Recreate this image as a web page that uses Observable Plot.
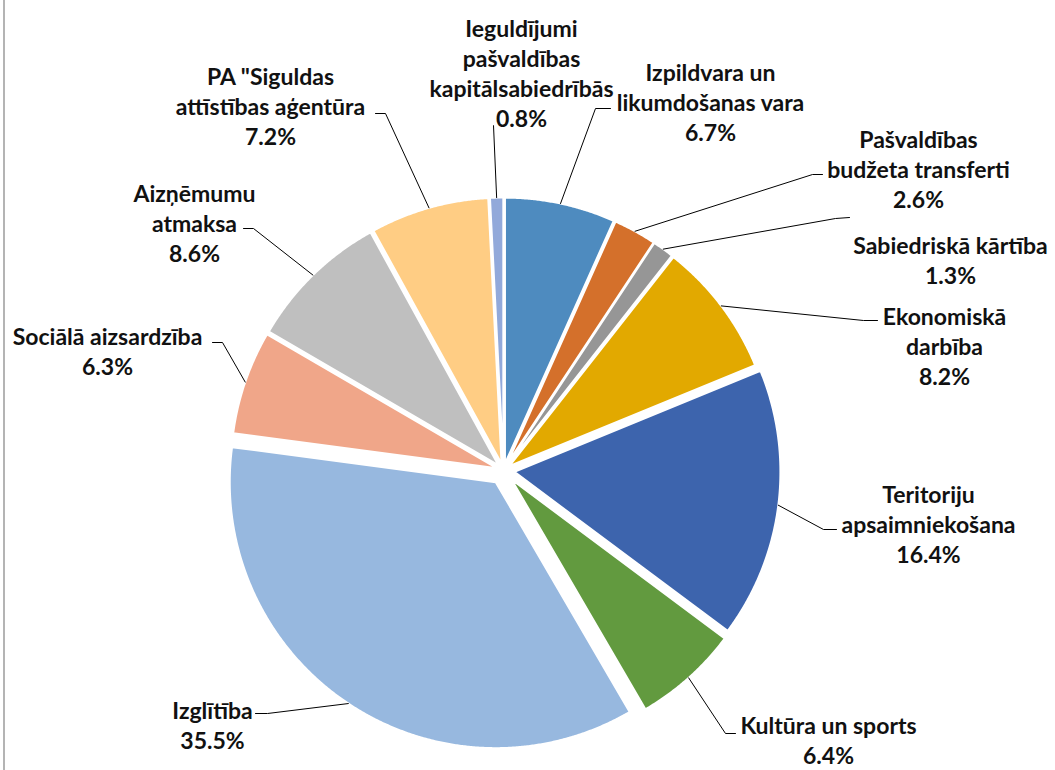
<!DOCTYPE html>
<html>
<head>
<meta charset="utf-8">
<script src="https://cdn.jsdelivr.net/npm/d3@7"></script>
<script src="https://cdn.jsdelivr.net/npm/@observablehq/plot@0.6"></script>
<style>
  html, body { margin: 0; padding: 0; background: #fff; }
  #wrap { position: relative; width: 1055px; height: 770px; }
  #frame { position: absolute; left: 3px; top: 0; width: 2px; height: 770px; background: #b4b4b4; }
</style>
</head>
<body>
<div id="wrap"><div id="frame"></div><div id="chart"></div></div>
<script>
// ---- data (clockwise from 12 o'clock) ----
const categories = [
  "Izpildvara un likumdošanas vara",
  "Pašvaldības budžeta transferti",
  "Sabiedriskā kārtība",
  "Ekonomiskā darbība",
  "Teritoriju apsaimniekošana",
  "Kultūra un sports",
  "Izglītība",
  "Sociālā aizsardzība",
  "Aizņēmumu atmaksa",
  "PA \"Siguldas attīstības aģentūra",
  "Ieguldījumi pašvaldības kapitālsabiedrībās"
];
const values = [6.7, 2.6, 1.3, 8.2, 16.4, 6.4, 35.5, 6.3, 8.6, 7.2, 0.8];
const labelLines = [
  ["Izpildvara un", "likumdošanas vara"],
  ["Pašvaldības", "budžeta transferti"],
  ["Sabiedriskā kārtība"],
  ["Ekonomiskā", "darbība"],
  ["Teritoriju", "apsaimniekošana"],
  ["Kultūra un sports"],
  ["Izglītība"],
  ["Sociālā aizsardzība"],
  ["Aizņēmumu", "atmaksa"],
  ["PA \"Siguldas", "attīstības aģentūra"],
  ["Ieguldījumi", "pašvaldības", "kapitālsabiedrībās"]
];

// ---- styles / layout ----
const colors = ["#4e8bbf", "#d4702b", "#969696", "#e2a900", "#3d64ad", "#629a3f",
                "#97b8df", "#f0a689", "#bfbfbf", "#ffcd84", "#92a9da"];
const W = 1055, H = 770;
const CX = 503, CY = 470, R = 266;            // pie centre & radius in px
const explodePx = [7, 7, 7, 7, 11, 12, 14, 7, 7, 7, 7];
// label block centres (px) and leader elbows / ends (px)
const labelAt = [[710,101],[918,168],[950,259],[944,345],[928,523],[828,739],
                 [212,724],[107,350],[194,222],[270,105],[521,72]];
const elbowAt = [[595,108],[812,174],[835,218],[863,320],[823,529],[725,733],
                 [267,713],[222,342],[253,228],[385,113],[493,125]];
const endAt   = [[610,108],[822,174],[849,217],[877,320],[836,529],[735,733],
                 [255,713],[212,342],[243,228],[375,113],[493,125]];

const ux = p => (p - CX) / R;       // px -> unit x
const uy = p => (CY - p) / R;       // px -> unit y (up)

const arcs = d3.pie().sort(null).value(d => d)(values);

const slicePts = [];
const leaderPts = [];
const labels = [];
arcs.forEach((a, i) => {
  const name = categories[i];
  const mid = (a.startAngle + a.endAngle) / 2;
  const e = explodePx[i] / R;
  const ox = Math.sin(mid) * e, oy = Math.cos(mid) * e;
  slicePts.push({name, x: ox, y: oy});
  const n = Math.max(2, Math.ceil((a.endAngle - a.startAngle) / 0.005));
  for (let k = 0; k <= n; k++) {
    const t = a.startAngle + (a.endAngle - a.startAngle) * k / n;
    slicePts.push({name, x: ox + Math.sin(t), y: oy + Math.cos(t)});
  }
  slicePts.push({name, x: ox, y: oy});
  // leader line
  leaderPts.push({name, x: ox + Math.sin(mid), y: oy + Math.cos(mid)});
  leaderPts.push({name, x: ux(elbowAt[i][0]), y: uy(elbowAt[i][1])});
  leaderPts.push({name, x: ux(endAt[i][0]), y: uy(endAt[i][1])});
  // label
  const pct = values[i].toFixed(1) + "%";
  labels.push({name, x: ux(labelAt[i][0]), y: uy(labelAt[i][1]),
               text: labelLines[i].concat([pct]).join("\n")});
});

const chart = Plot.plot({
  width: W, height: H,
  marginTop: 0, marginRight: 0, marginBottom: 0, marginLeft: 0,
  x: {domain: [ux(0), ux(W)], range: [0, W], axis: null},
  y: {domain: [uy(H), uy(0)], range: [H, 0], axis: null},
  color: {domain: categories, range: colors},
  style: {background: "transparent"},
  marks: [
    Plot.line(slicePts, {x: "x", y: "y", z: "name", fill: "name",
                         stroke: "#ffffff", strokeWidth: 2, strokeLinejoin: "round"}),
    Plot.line(leaderPts, {x: "x", y: "y", z: "name", stroke: "#000", strokeWidth: 1}),
    Plot.text(labels, {x: "x", y: "y", text: "text", fontSize: 23, fontWeight: "bold",
                       fontFamily: "Lato", lineHeight: 1.3, lineAnchor: "middle",
                       textAnchor: "middle", fill: "#111"})
  ]
});
document.getElementById("chart").appendChild(chart);
</script>
</body>
</html>
